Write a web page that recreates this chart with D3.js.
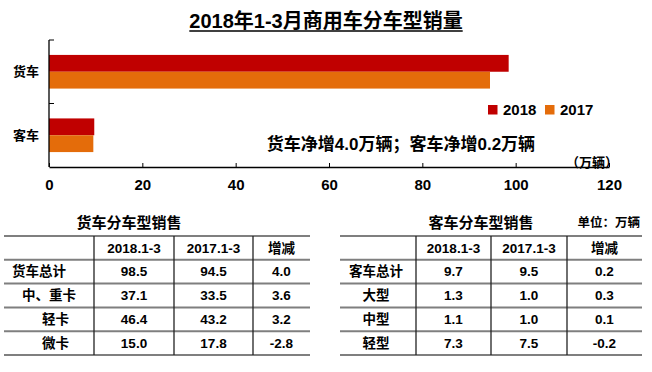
<!DOCTYPE html>
<html>
<head>
<meta charset="utf-8">
<script src="https://cdnjs.cloudflare.com/ajax/libs/d3/7.8.5/d3.min.js"></script>
<style>
  body { margin: 0; background: #fff; }
  svg text { font-family: "Liberation Sans", Arial, "Noto Sans CJK SC", sans-serif; font-weight: bold; fill: #000; }
</style>
</head>
<body>
<div id="chart"></div>
<script>
// dados do gráfico
var categories = ["货车", "客车"];
var years = ["2018", "2017"];
var sales2018 = [98.5, 9.7];
var sales2017 = [94.5, 9.5];
var xTicks = [0, 20, 40, 60, 80, 100, 120];

// tabelas
var tableHeader = ["", "2018.1-3", "2017.1-3", "增减"];
var truckRows = ["货车总计", "中、重卡", "轻卡", "微卡"];
var truck2018 = [98.5, 37.1, 46.4, 15.0];
var truck2017 = [94.5, 33.5, 43.2, 17.8];
var truckDiff = [4.0, 3.6, 3.2, -2.8];
var busRows = ["客车总计", "大型", "中型", "轻型"];
var bus2018 = [9.7, 1.3, 1.1, 7.3];
var bus2017 = [9.5, 1.0, 1.0, 7.5];
var busDiff = [0.2, 0.3, 0.1, -0.2];

var colors = {"2018": "#C00000", "2017": "#E46C0A"};

var width = 652, height = 372;

var svg = d3.select("#chart").append("svg")
    .attr("width", width)
    .attr("height", height);

function create_bars(svg){
    var x = d3.scaleLinear().domain([0, 120]).range([49, 609]);
    var y = d3.scaleBand().domain(categories).range([40, 167])
        .paddingInner(0.47).paddingOuter(0.235);
    var y1 = d3.scaleBand().domain(years).range([0, y.bandwidth()]);

    var data = categories.map(function(c, i){
        return {tipo: c, valores: [{ano: "2018", valor: sales2018[i]}, {ano: "2017", valor: sales2017[i]}]};
    });

    // titulo
    var title = svg.append("text")
        .attr("x", 326).attr("y", 28)
        .attr("text-anchor", "middle")
        .style("font-size", "20px")
        .text("2018年1-3月商用车分车型销量");
    var bb = title.node().getBBox();
    svg.append("line")
        .attr("x1", bb.x).attr("x2", bb.x + bb.width)
        .attr("y1", 31).attr("y2", 31)
        .style("stroke", "#000").style("stroke-width", 1.5);

    var g = svg.selectAll(".cat")
        .data(data)
        .enter().append("g")
        .attr("class", "cat")
        .attr("transform", function(d){ return "translate(0," + y(d.tipo) + ")"; });

    g.selectAll("rect")
        .data(function(d){ return d.valores; })
        .enter().append("rect")
        .attr("x", x(0))
        .attr("y", function(d){ return y1(d.ano); })
        .attr("width", function(d){ return x(d.valor) - x(0); })
        .attr("height", y1.bandwidth())
        .style("fill", function(d){ return colors[d.ano]; });

    // eixo x
    var xAxis = d3.axisBottom(x).tickValues(xTicks).tickSize(-4).tickSizeOuter(0).tickPadding(12);
    var ax = svg.append("g").attr("transform", "translate(0,167)").call(xAxis);
    ax.select(".domain").style("stroke", "#000").style("stroke-width", 1.3);
    ax.selectAll(".tick line").style("stroke", "#000");
    ax.selectAll(".tick text")
        .style("font-size", "15px")
        .style("font-family", "'Liberation Sans', Arial, sans-serif")
        .style("font-weight", "bold");

    // eixo y
    var gap = (y.step() - y.bandwidth()) / 2;
    var bounds = categories.map(function(c){ return y(c) - gap; });
    svg.append("line")
        .attr("x1", x(0)).attr("x2", x(0))
        .attr("y1", bounds[0]).attr("y2", 167)
        .style("stroke", "#000").style("stroke-width", 1.3);
    svg.selectAll(".ytick")
        .data(bounds)
        .enter().append("line")
        .attr("class", "ytick")
        .attr("x1", x(0)).attr("x2", x(0) + 5)
        .attr("y1", function(d){ return d; }).attr("y2", function(d){ return d; })
        .style("stroke", "#000");

    svg.selectAll(".ylabel")
        .data(categories)
        .enter().append("text")
        .attr("class", "ylabel")
        .attr("x", 39)
        .attr("y", function(d){ return y(d) + y.bandwidth() / 2; })
        .attr("dy", "0.35em")
        .attr("text-anchor", "end")
        .style("font-size", "13px")
        .text(function(d){ return d; });

    // legenda
    var leg = svg.selectAll(".leg")
        .data(years)
        .enter().append("g")
        .attr("class", "leg")
        .attr("transform", function(d, i){ return "translate(" + (488 + i * 57) + ",105)"; });
    leg.append("rect")
        .attr("width", 9.5).attr("height", 9.5)
        .style("fill", function(d){ return colors[d]; });
    leg.append("text")
        .attr("x", 15).attr("y", 4.8).attr("dy", "0.35em")
        .style("font-size", "15px")
        .text(function(d){ return d; });

    svg.append("text")
        .attr("x", 401).attr("y", 144.3).attr("dy", "0.35em")
        .attr("text-anchor", "middle")
        .style("font-size", "17px")
        .text("货车净增" + (sales2018[0] - sales2017[0]).toFixed(1) + "万辆；客车净增" + (sales2018[1] - sales2017[1]).toFixed(1) + "万辆");

    svg.append("text")
        .attr("x", 592).attr("y", 162.5).attr("dy", "0.35em")
        .attr("text-anchor", "middle")
        .style("font-size", "13px")
        .text("（万辆）");
}

function create_table(svg, titulo, titleX, edges, labels, v18, v17, diff, labelX, labelAnchor){
    var rows = [tableHeader].concat(labels.map(function(l, i){
        return [l, v18[i].toFixed(1), v17[i].toFixed(1), diff[i].toFixed(1)];
    }));
    var y = d3.scaleBand().domain(d3.range(rows.length)).range([236, 355]);

    svg.append("text")
        .attr("x", titleX).attr("y", 223).attr("dy", "0.35em")
        .attr("text-anchor", "middle")
        .style("font-size", "15px")
        .text(titulo);

    var hlines = d3.range(rows.length + 1).map(function(i){ return 236 + i * y.step(); });
    svg.selectAll(null)
        .data(hlines)
        .enter().append("line")
        .attr("x1", edges[0]).attr("x2", edges[edges.length - 1])
        .attr("y1", function(d){ return d; }).attr("y2", function(d){ return d; })
        .style("stroke", "#7f7f7f").style("stroke-width", 2);

    svg.selectAll(null)
        .data(edges.slice(1, -1))
        .enter().append("line")
        .attr("x1", function(d){ return d; }).attr("x2", function(d){ return d; })
        .attr("y1", 236).attr("y2", 355)
        .style("stroke", "#222").style("stroke-width", 1.3);

    var row = svg.selectAll(null)
        .data(rows)
        .enter().append("g")
        .attr("transform", function(d, i){ return "translate(0," + (y(i) + y.bandwidth() / 2) + ")"; });

    row.selectAll("text")
        .data(function(d, i){ return d.map(function(t, j){ return {t: t, j: j, r: i}; }); })
        .enter().append("text")
        .attr("x", function(d){
            if(d.j == 0 && d.r > 0) return labelX[d.r - 1];
            return (edges[d.j] + edges[d.j + 1]) / 2;
        })
        .attr("dy", "0.35em")
        .attr("text-anchor", function(d){ return (d.j == 0) ? labelAnchor : "middle"; })
        .style("font-size", "13.5px")
        .text(function(d){ return d.t; });
}

create_bars(svg);
create_table(svg, "货车分车型销售", 129, [4, 94, 174, 253, 310],
    truckRows, truck2018, truck2017, truckDiff, [12, 22, 42, 42], "start");
create_table(svg, "客车分车型销售", 481, [340, 416, 491, 567, 642],
    busRows, bus2018, bus2017, busDiff, [376, 376, 376, 376], "middle");

svg.append("text")
    .attr("x", 640).attr("y", 222.7).attr("dy", "0.35em")
    .attr("text-anchor", "end")
    .style("font-size", "12.5px")
    .text("单位：万辆");
</script>
</body>
</html>
